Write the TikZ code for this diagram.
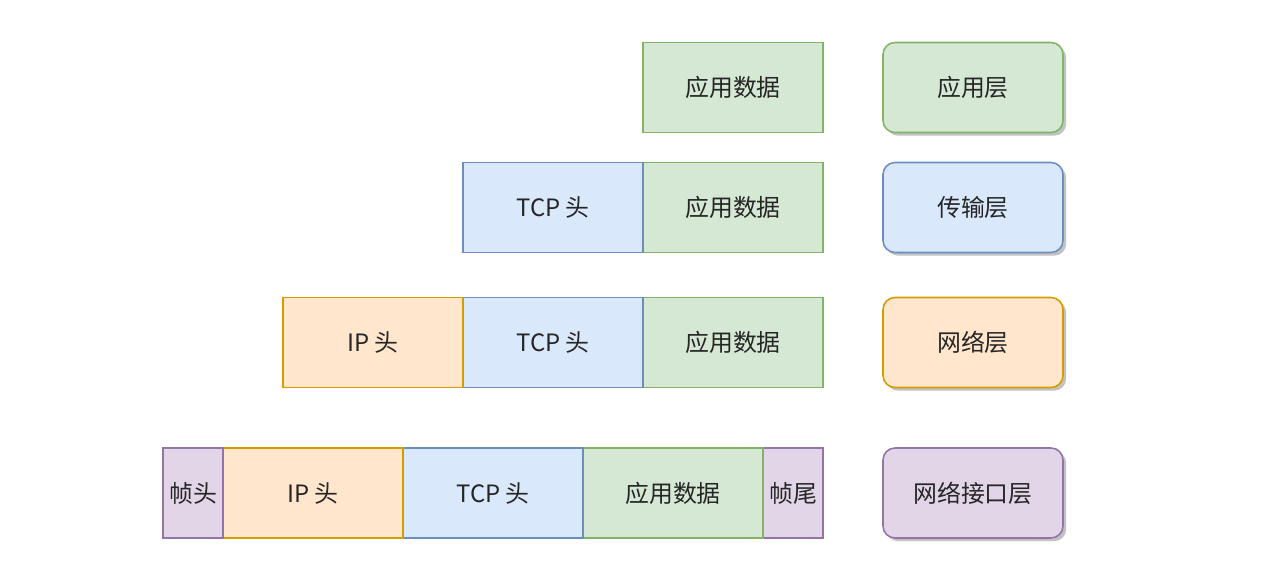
\documentclass[tikz,border=0pt]{standalone}
\usepackage{fontspec}
\newfontfamily\cjk{Noto Sans CJK SC}
\usetikzlibrary{positioning, shadows}
\definecolor{appfill}{HTML}{D5E8D4}
\definecolor{appline}{HTML}{82B366}
\definecolor{tcpfill}{HTML}{DAE8FC}
\definecolor{tcpline}{HTML}{6C8EBF}
\definecolor{ipfill}{HTML}{FFE6CC}
\definecolor{ipline}{HTML}{D79B00}
\definecolor{frmfill}{HTML}{E1D5E7}
\definecolor{frmline}{HTML}{9673A6}
\tikzset{
  seg/.style={draw, line width=0.9pt, minimum width=4.5cm, minimum height=2.25cm,
              inner sep=0pt, outer sep=0pt, text=black!85,
              font=\cjk\fontsize{17}{20}\selectfont},
  appseg/.style={seg, draw=appline, fill=appfill},
  tcpseg/.style={seg, draw=tcpline, fill=tcpfill},
  ipseg/.style={seg, draw=ipline, fill=ipfill},
  frmseg/.style={seg, draw=frmline, fill=frmfill, minimum width=1.5cm},
  layer/.style={rounded corners=0.3cm, line width=1.1pt,
                drop shadow={shadow xshift=0.08cm, shadow yshift=-0.08cm,
                             fill=black!40, opacity=0.6}},
}
\begin{document}
\begin{tikzpicture}
  \useasboundingbox (0,0) rectangle (32.2,-14.3);

  % application layer
  \node[appseg] (app1) at (18.325,-2.1875) {应用数据};
  \node[appseg, layer] (lay1) at (24.325,-2.1875) {应用层};

  % transport layer
  \node[appseg] (app2) at (18.325,-5.1875) {应用数据};
  \node[tcpseg, left=0pt of app2] (tcp2) {TCP 头};
  \node[tcpseg, layer] (lay2) at (24.325,-5.1875) {传输层};

  % network layer
  \node[appseg] (app3) at (18.325,-8.5625) {应用数据};
  \node[tcpseg, left=0pt of app3] (tcp3) {TCP 头};
  \node[ipseg, left=0pt of tcp3] (ip3) {IP 头};
  \node[ipseg, layer] (lay3) at (24.325,-8.5625) {网络层};

  % link layer
  \node[frmseg] (tail4) at (19.825,-12.325) {帧尾};
  \node[appseg, left=0pt of tail4] (app4) {应用数据};
  \node[tcpseg, left=0pt of app4] (tcp4) {TCP 头};
  \node[ipseg, left=0pt of tcp4] (ip4) {IP 头};
  \node[frmseg, left=0pt of ip4] (head4) {帧头};
  \node[frmseg, layer, minimum width=4.5cm] (lay4) at (24.325,-12.325) {网络接口层};
\end{tikzpicture}
\end{document}
